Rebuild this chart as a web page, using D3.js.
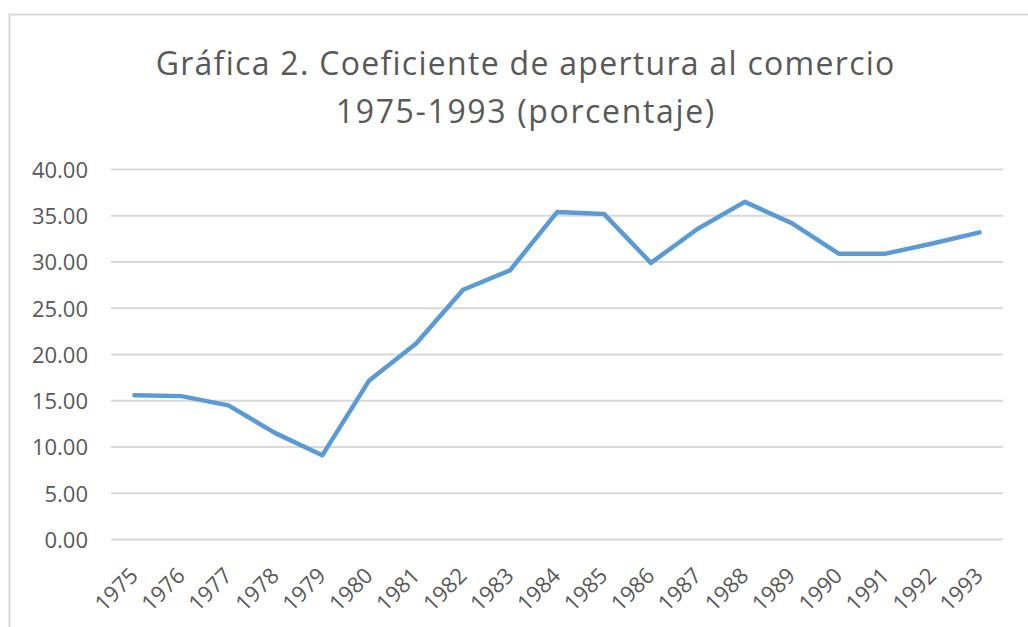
<!DOCTYPE html>
<html><head><meta charset="utf-8">
<script src="https://cdn.jsdelivr.net/npm/d3@7"></script>
<style>body{margin:0;background:#fff;}svg{display:block;}</style>
</head><body>
<svg id="c" width="1028" height="627"></svg>
<script>
const years = ["1975","1976","1977","1978","1979","1980","1981","1982","1983","1984","1985","1986","1987","1988","1989","1990","1991","1992","1993"];
const values = [15.6,15.5,14.5,11.5,9.1,17.2,21.2,27.0,29.1,35.4,35.2,29.9,33.6,36.5,34.2,30.9,30.9,32.0,33.2];
const yTicks = [0,5,10,15,20,25,30,35,40];
const titleLines = ["Gráfica 2. Coeficiente de apertura al comercio","1975-1993 (porcentaje)"];

const svg = d3.select("#c");
const font = "'Open Sans', sans-serif";
const txt = "#595959";

// chart border
svg.append("path").attr("d","M9.5,640 V14.5 H1040").attr("fill","none").attr("stroke","#d9d9d9").attr("stroke-width",2);

const x = d3.scaleBand().domain(years).range([111,1003]);
const y = d3.scaleLinear().domain([0,40]).range([539.5,169.5]);

// gridlines
svg.append("g").selectAll("line").data(yTicks).join("line")
  .attr("x1",111).attr("x2",1003)
  .attr("y1",d=>y(d)).attr("y2",d=>y(d))
  .attr("stroke","#d9d9d9").attr("stroke-width",2);

// y axis labels
const yAxis = d3.axisLeft(y).tickValues(yTicks).tickFormat(d3.format(".2f")).tickSize(0).tickPadding(0);
const ga = svg.append("g").attr("transform","translate(88,0)").call(yAxis);
ga.select(".domain").remove();
ga.selectAll("text").attr("font-family",font).attr("font-size",22).attr("fill",txt).attr("dy","0.36em");

// x axis labels
const xAxis = d3.axisBottom(x).tickSize(0).tickPadding(0);
const gx = svg.append("g").attr("transform","translate(0,548)").call(xAxis);
gx.select(".domain").remove();
gx.selectAll("text").attr("font-family",font).attr("font-size",22).attr("fill",txt)
  .attr("text-anchor","end").attr("dy",null).attr("y",0)
  .attr("transform","translate(5,29) rotate(-45)");

// line
const line = d3.line().x((d,i)=>x(years[i])+x.bandwidth()/2).y(d=>y(d));
svg.append("path").datum(values).attr("d",line).attr("fill","none")
  .attr("stroke","#5b9bd5").attr("stroke-width",4.5).attr("stroke-linejoin","round").attr("stroke-linecap","round");

// title
function titleLine(str, yy, targetW){
  const t = svg.append("text").attr("x",525).attr("y",yy).attr("text-anchor","middle")
    .attr("font-family",font).attr("font-size",32).attr("fill",txt).text(str);
  const w = t.node().getComputedTextLength();
  const ls = (targetW - w)/str.length;
  t.attr("letter-spacing", ls).attr("x", 525 + ls/2);
}
titleLine(titleLines[0], 75, 740);
titleLine(titleLines[1], 123, 380);
</script>
</body></html>
